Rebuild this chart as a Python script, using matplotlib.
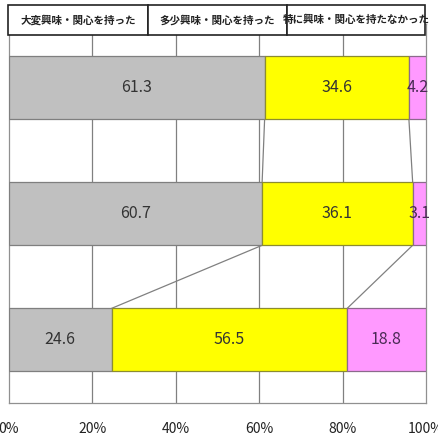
"""Stacked 100% bar chart: interest levels (3 groups) with series lines."""

import numpy as np
import matplotlib
matplotlib.use("Agg")
import matplotlib.pyplot as plt
from matplotlib.patches import Rectangle

plt.rcParams["font.family"] = ["Noto Sans CJK JP", "DejaVu Sans"]

categories = ["group1", "group2", "group3"]
series_names = ["大変興味・関心を持った", "多少興味・関心を持った", "特に興味・関心を持たなかった"]
very = [61.3, 60.7, 24.6]
some = [34.6, 36.1, 56.5]
none_ = [4.2, 3.1, 18.8]
xticks = [0, 20, 40, 60, 80, 100]

colors = ["#c0c0c0", "#ffff00", "#ff99ff"]
edges = ["#7f7f7f", "#8c8c30", "#8c6a8c"]
label_colors = ["#333333", "#333333", "#4a2a55"]

fig = plt.figure(figsize=(4.39, 4.40), dpi=100)
ax = fig.add_axes([9 / 439, 37 / 440, 417 / 439, 378.5 / 440])

data = np.array([very, some, none_])
ypos = np.arange(len(categories))
left = np.zeros(len(categories))
for i in range(3):
    ax.barh(ypos, data[i], left=left, height=0.5, color=colors[i],
            edgecolor=edges[i], linewidth=0.9, zorder=3)
    for y, l, v in zip(ypos, left, data[i]):
        ax.text(l + v / 2, y, f"{v:.1f}", ha="center", va="center",
                fontsize=11.5, color=label_colors[i], zorder=5)
    left = left + data[i]

# series lines between bars
cum1 = data[0]
cum2 = data[0] + data[1]
for k in range(len(categories) - 1):
    for cum in (cum1, cum2):
        ax.plot([cum[k], cum[k + 1]], [ypos[k] + 0.25, ypos[k + 1] - 0.25],
                color="#808080", linewidth=0.9, zorder=2)

ax.set_xlim(0, 100)
ax.set_ylim(ypos[-1] + 0.5, ypos[0] - 0.5)
ax.set_yticks([])
ax.set_xticks(xticks)
ax.set_xticklabels([f"{t}%" for t in xticks], fontsize=10, color="#222222")
ax.tick_params(axis="x", length=0, pad=14)
for t in xticks[1:-1]:
    ax.axvline(t, color="#808080", linewidth=0.9, zorder=1)
for s in ax.spines.values():
    s.set_color("#909090")
    s.set_linewidth(0.9)

# legend header boxes
hx0, hx1 = 8 / 439, 425 / 439
hax = fig.add_axes([hx0, (440 - 35) / 440, hx1 - hx0, 30 / 440])
hax.set_xlim(8, 425)
hax.set_ylim(0, 1)
hax.axis("off")
bounds = [8, 148, 287, 425]
for i, name in enumerate(series_names):
    hax.add_patch(Rectangle((bounds[i], 0), bounds[i + 1] - bounds[i], 1,
                            facecolor="white", edgecolor="#222222", linewidth=1.2,
                            clip_on=False))
    hax.text((bounds[i] + bounds[i + 1]) / 2, 0.5, name, ha="center", va="center",
             fontsize=7.6, fontweight="bold", color="#222222")

fig.savefig("out.png", dpi=100)
